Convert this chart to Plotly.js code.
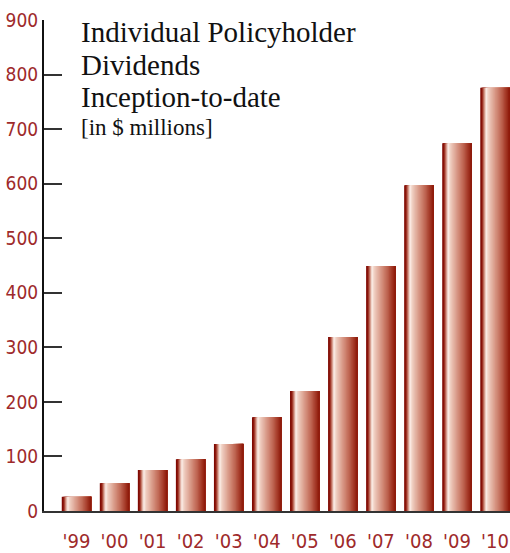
<!DOCTYPE html>
<html>
<head>
<meta charset="utf-8">
<script src="https://cdn.plot.ly/plotly-3.0.1.min.js"></script>
<style>html,body{margin:0;padding:0;background:#fff;}#chart{width:510px;height:553px;}</style>
</head>
<body>
<div id="chart"></div>
<script>
// ---- data ----
const years = ["'99","'00","'01","'02","'03","'04","'05","'06","'07","'08","'09","'10"];
const dividends = [26, 51, 75, 95, 123, 172, 220, 319, 449, 597, 674, 776];
const yTicks = [0, 100, 200, 300, 400, 500, 600, 700, 800, 900];
const titleLines = ["Individual Policyholder", "Dividends", "Inception-to-date"];
const subtitle = "[in $ millions]";

// ---- gradient styling for cylinder-like bars ----
const stops = [
  [0.00, [120, 4, 0]],
  [0.06, [140, 20, 8]],
  [0.13, [205, 135, 118]],
  [0.20, [252, 240, 234]],
  [0.27, [240, 208, 195]],
  [0.50, [216, 152, 134]],
  [0.72, [190, 100, 80]],
  [0.88, [162, 54, 36]],
  [1.00, [138, 20, 6]]
];
function gradColor(t) {
  for (let i = 1; i < stops.length; i++) {
    if (t <= stops[i][0]) {
      const a = stops[i-1], b = stops[i];
      const f = (t - a[0]) / (b[0] - a[0]);
      const c = a[1].map((v, k) => Math.round(v + (b[1][k] - v) * f));
      return 'rgb(' + c.join(',') + ')';
    }
  }
  return 'rgb(' + stops[stops.length-1][1].join(',') + ')';
}

const BAR_W = 0.775;
const N = 36;
const xIdx = years.map((_, i) => i);
const traces = [];
for (let i = 0; i < N; i++) {
  const off = -BAR_W / 2 + i * BAR_W / N;
  traces.push({
    type: 'bar',
    x: xIdx,
    y: dividends,
    offset: off,
    width: BAR_W - i * BAR_W / N,
    marker: { color: gradColor((i + 0.5) / N), line: { width: 0 } },
    hoverinfo: 'skip',
    showlegend: false
  });
}

const red = '#9e2a2b';
const narrow = '"Liberation Sans Narrow", "Arial Narrow", "DejaVu Sans Condensed", sans-serif';
const serif = '"Liberation Serif", "DejaVu Serif", serif';

const annotations = [];
const lineY = [32, 65, 97];
titleLines.forEach((t, i) => {
  annotations.push({
    text: t, xref: 'paper', yref: 'paper',
    x: (79 - 44) / 466, y: (511 - lineY[i]) / 491,
    xanchor: 'left', yanchor: 'middle', showarrow: false,
    font: { family: serif, size: 29, color: '#111' }
  });
});
annotations.push({
  text: subtitle, xref: 'paper', yref: 'paper',
  x: (79 - 44) / 466, y: (511 - 127) / 491,
  xanchor: 'left', yanchor: 'middle', showarrow: false,
  font: { family: serif, size: 23, color: '#111' }
});

const layout = {
  width: 510, height: 553,
  margin: { l: 44, r: 0, t: 20, b: 42 },
  paper_bgcolor: '#fff', plot_bgcolor: '#fff',
  barmode: 'overlay',
  showlegend: false,
  xaxis: {
    range: [-0.854, 11.394],
    tickvals: xIdx, ticktext: years,
    showgrid: false, zeroline: false,
    showline: true, linecolor: '#333', linewidth: 2,
    ticks: '', ticklabelstandoff: 11,
    tickfont: { family: narrow, size: 20, color: red },
    fixedrange: true
  },
  yaxis: {
    range: [0, 900],
    tickvals: yTicks,
    showgrid: false, zeroline: false,
    showline: true, linecolor: '#111', linewidth: 2,
    ticks: 'inside', ticklen: 18, tickwidth: 2, tickcolor: '#333',
    tickfont: { family: narrow, size: 19, color: red },
    fixedrange: true
  },
  annotations: annotations
};

Plotly.newPlot('chart', traces, layout, { displayModeBar: false, staticPlot: true });
</script>
</body>
</html>
